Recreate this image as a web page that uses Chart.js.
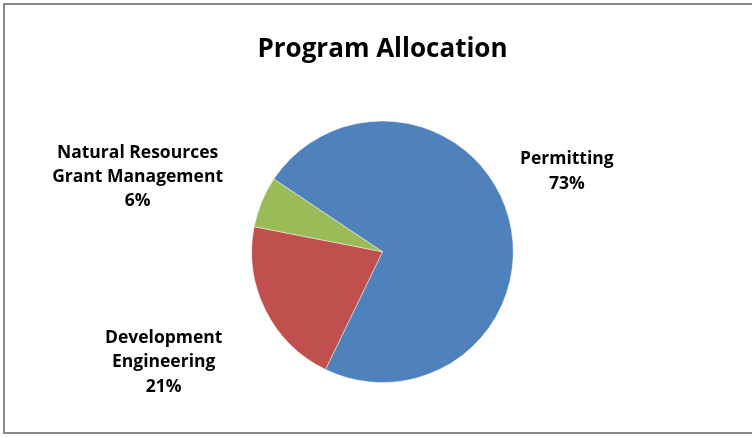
<!DOCTYPE html>
<html>
<head>
<meta charset="utf-8">
<script src="https://cdn.jsdelivr.net/npm/chart.js@4"></script>
<style>
  html, body { margin: 0; padding: 0; background: #ffffff; }
  #wrap { width: 752px; height: 437px; position: relative; }
</style>
</head>
<body>
<div id="wrap"><canvas id="graficoPrograma" width="752" height="437"></canvas></div>
<script>
const categorias = ["Permitting", "Development Engineering", "Natural Resources Grant Management"];
const linhasRotulo = [["Permitting"], ["Development", "Engineering"], ["Natural Resources", "Grant Management"]];
const valores = [72.8, 20.9, 6.3];
const cores = ["#4F81BD", "#C0504D", "#9BBB59"];

window.onload = function () {

    const canvas = document.getElementById('graficoPrograma');
    const fonte = "'Open Sans', Lato, sans-serif";

    // moldura cinza do grafico
    const moldura = {
        id: 'moldura',
        beforeDraw(chart) {
            const ctx = chart.ctx;
            ctx.save();
            ctx.fillStyle = '#ffffff';
            ctx.fillRect(0, 0, chart.width, chart.height);
            ctx.strokeStyle = '#8a8a8a';
            ctx.lineWidth = 2;
            ctx.strokeRect(4, 4, chart.width + 10, chart.height - 8);
            ctx.restore();
        }
    };

    // rotulos fora da pizza (nome + percentual)
    const rotulos = {
        id: 'rotulos',
        afterDatasetsDraw(chart, args, opts) {
            const ctx = chart.ctx;
            const meta = chart.getDatasetMeta(0);
            const total = valores.reduce((a, b) => a + b, 0);
            ctx.save();
            ctx.font = 'bold ' + opts.tamanho + 'px ' + fonte;
            ctx.fillStyle = '#000000';
            ctx.textAlign = 'center';
            ctx.textBaseline = 'middle';
            meta.data.forEach((arco, i) => {
                const p = opts.posicoes[i];
                const ang = p.angulo * Math.PI / 180;
                const cx = arco.x + Math.cos(ang) * arco.outerRadius * p.dist;
                const cy = arco.y + Math.sin(ang) * arco.outerRadius * p.dist;
                const linhas = linhasRotulo[i].concat([Math.round(valores[i] / total * 100) + '%']);
                linhas.forEach((txt, j) => {
                    ctx.fillText(txt, cx, cy + (j - (linhas.length - 1) / 2) * opts.entreLinhas + opts.ajusteY);
                });
            });
            ctx.restore();
        }
    };

    new Chart(canvas, {
        type: 'pie',
        data: {
            labels: categorias,
            datasets: [{
                data: valores,
                backgroundColor: cores,
                borderColor: 'rgba(255,255,255,0.45)',
                borderWidth: 1
            }]
        },
        options: {
            responsive: false,
            animation: false,
            rotation: -56.25,
            layout: { padding: { left: 13, right: 0, top: 0, bottom: 54 } },
            plugins: {
                legend: { display: false },
                tooltip: { enabled: false },
                title: {
                    display: true,
                    text: 'Program Allocation',
                    color: '#000000',
                    font: { family: fonte, size: 26, weight: 'bold', lineHeight: 1.2 },
                    padding: { top: 34, bottom: 55.3 }
                },
                rotulos: {
                    tamanho: 17.5,
                    entreLinhas: 24.4,
                    ajusteY: 1.5,
                    posicoes: [
                        { angulo: 336.1, dist: 1.542 },
                        { angulo: 153.5, dist: 1.870 },
                        { angulo: 197.3, dist: 1.962 }
                    ]
                }
            }
        },
        plugins: [moldura, rotulos]
    });
}
</script>
</body>
</html>
